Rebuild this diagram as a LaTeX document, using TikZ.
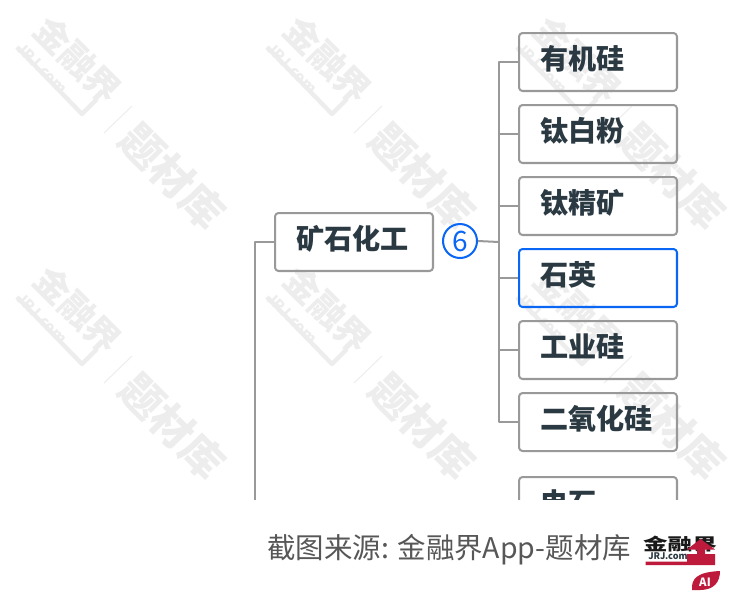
\documentclass[tikz,border=0pt]{standalone}
\usepackage{fontspec}
\setmainfont{Noto Sans CJK SC}
\usetikzlibrary{calc}
\definecolor{inkdark}{HTML}{2B3A42}
\definecolor{linegray}{HTML}{999999}
\definecolor{markgray}{HTML}{EDEDED}
\definecolor{pickblue}{HTML}{0A66F5}
\definecolor{logored}{HTML}{BE1A3C}
\tikzset{
  itembox/.style={draw=linegray,line width=1.15pt,rounded corners=2pt,minimum width=3.16cm,minimum height=1.16cm,
    text width=2.3cm,text height=13pt,text depth=5pt,inner sep=0pt,align=left,text=inkdark,font=\fontsize{16}{18}\selectfont\bfseries},
  link/.style={draw=linegray,line width=1.15pt},
  markword/.style={text=markgray,rotate=-45,inner sep=0pt,font=\fontsize{20}{22}\selectfont\bfseries},
}
\begin{document}
\begin{tikzpicture}[line cap=butt,line join=round,x=0.02cm,y=-0.02cm]
\useasboundingbox (0,0) rectangle (750,600);
% watermark tiles
\foreach \tilex in {0,250,500}
\foreach \tiley in {0,250}{
  \begin{scope}[shift={(\tilex,\tiley)}]
  \node[markword] (markjin\tilex\tiley) at (78,60) {金融界};
  \node[markword,font=\fontsize{8.5}{10}\selectfont\bfseries] (markjrj\tilex\tiley) at (42,68) {JRJ.com};
  \node[markword,font=\fontsize{24}{26}\selectfont\bfseries] (markti\tilex\tiley) at (173,176) {题材库};
  \draw[markgray,line width=0.6pt] (104,133)-- (132,106);
  \draw[markgray,line width=2.5pt] (17,47)-- (82,114)-- (97,99);
  \end{scope}
}
% boxes
\node[itembox] (root) at (354,242) {矿石化工};
\node[circle,draw=pickblue,line width=1.15pt,minimum size=0.68cm,inner sep=0pt,text=pickblue,font=\fontsize{16}{18}\selectfont] (count) at (460,241) {6};
\node[itembox] (youji) at (598,62) {有机硅};
\node[itembox] (taibai) at (598,134) {钛白粉};
\node[itembox] (taijing) at (598,206) {钛精矿};
\node[itembox,draw=pickblue] (shiying) at (598,278) {石英};
\node[itembox] (gongye) at (598,350) {工业硅};
\node[itembox] (eryang) at (598,422) {二氧化硅};
\node[itembox] (dianshi) at (598,506) {电石};
% connectors
\coordinate (trunktop) at (499,62);
\coordinate (trunkbot) at (499,422);
\coordinate (trunkmid) at (499,242);
\coordinate (rootdown) at (255,500);
\draw[link] (youji.west) -- (trunktop) -- (trunkbot) -- (eryang.west);
\draw[link] (count.east) -- (trunkmid);
\foreach \item in {taibai,taijing,shiying,gongye}
  \draw[link] (\item.west) -- (\item.west-|trunktop);
\draw[link] (root.west) -- (root.west-|rootdown) -- (rootdown);
% bottom band
\fill[white] (0,500) rectangle (750,600);
\node[inner sep=0pt,anchor=west,text=black!66,font=\fontsize{16.2}{18}\selectfont] (source) at (267,550) {截图来源: 金融界App-题材库};
% logo
\node[inner sep=0pt,text=black!90,font=\fontsize{9.5}{11}\selectfont\bfseries] (logoname) at (680,544) {\scalebox{1.47}[1]{金融界}};
\node[inner sep=0pt,anchor=west,text=inkdark,font=\fontsize{5.2}{6}\selectfont\bfseries] (logojrj) at (648,556.5) {JRJ.com};
\fill[logored] (645.5,561.5) -- (687,561.5) -- (687,554) -- (697,554) -- (697,549.5) -- (687,549.5) -- (700.5,539) -- (715,549.5) -- (705,549.5) -- (705,554) -- (715,554) -- (715,565) -- (645.5,565) -- cycle;
\fill[logored] (692,590) .. controls (691,578) and (698,572) .. (720,571) .. controls (720,582) and (714,590) .. (700,590) -- cycle;
\node[inner sep=0pt,text=white,font=\fontsize{6.5}{8}\selectfont\bfseries] (logoai) at (705,582) {AI};
\end{tikzpicture}
\end{document}
